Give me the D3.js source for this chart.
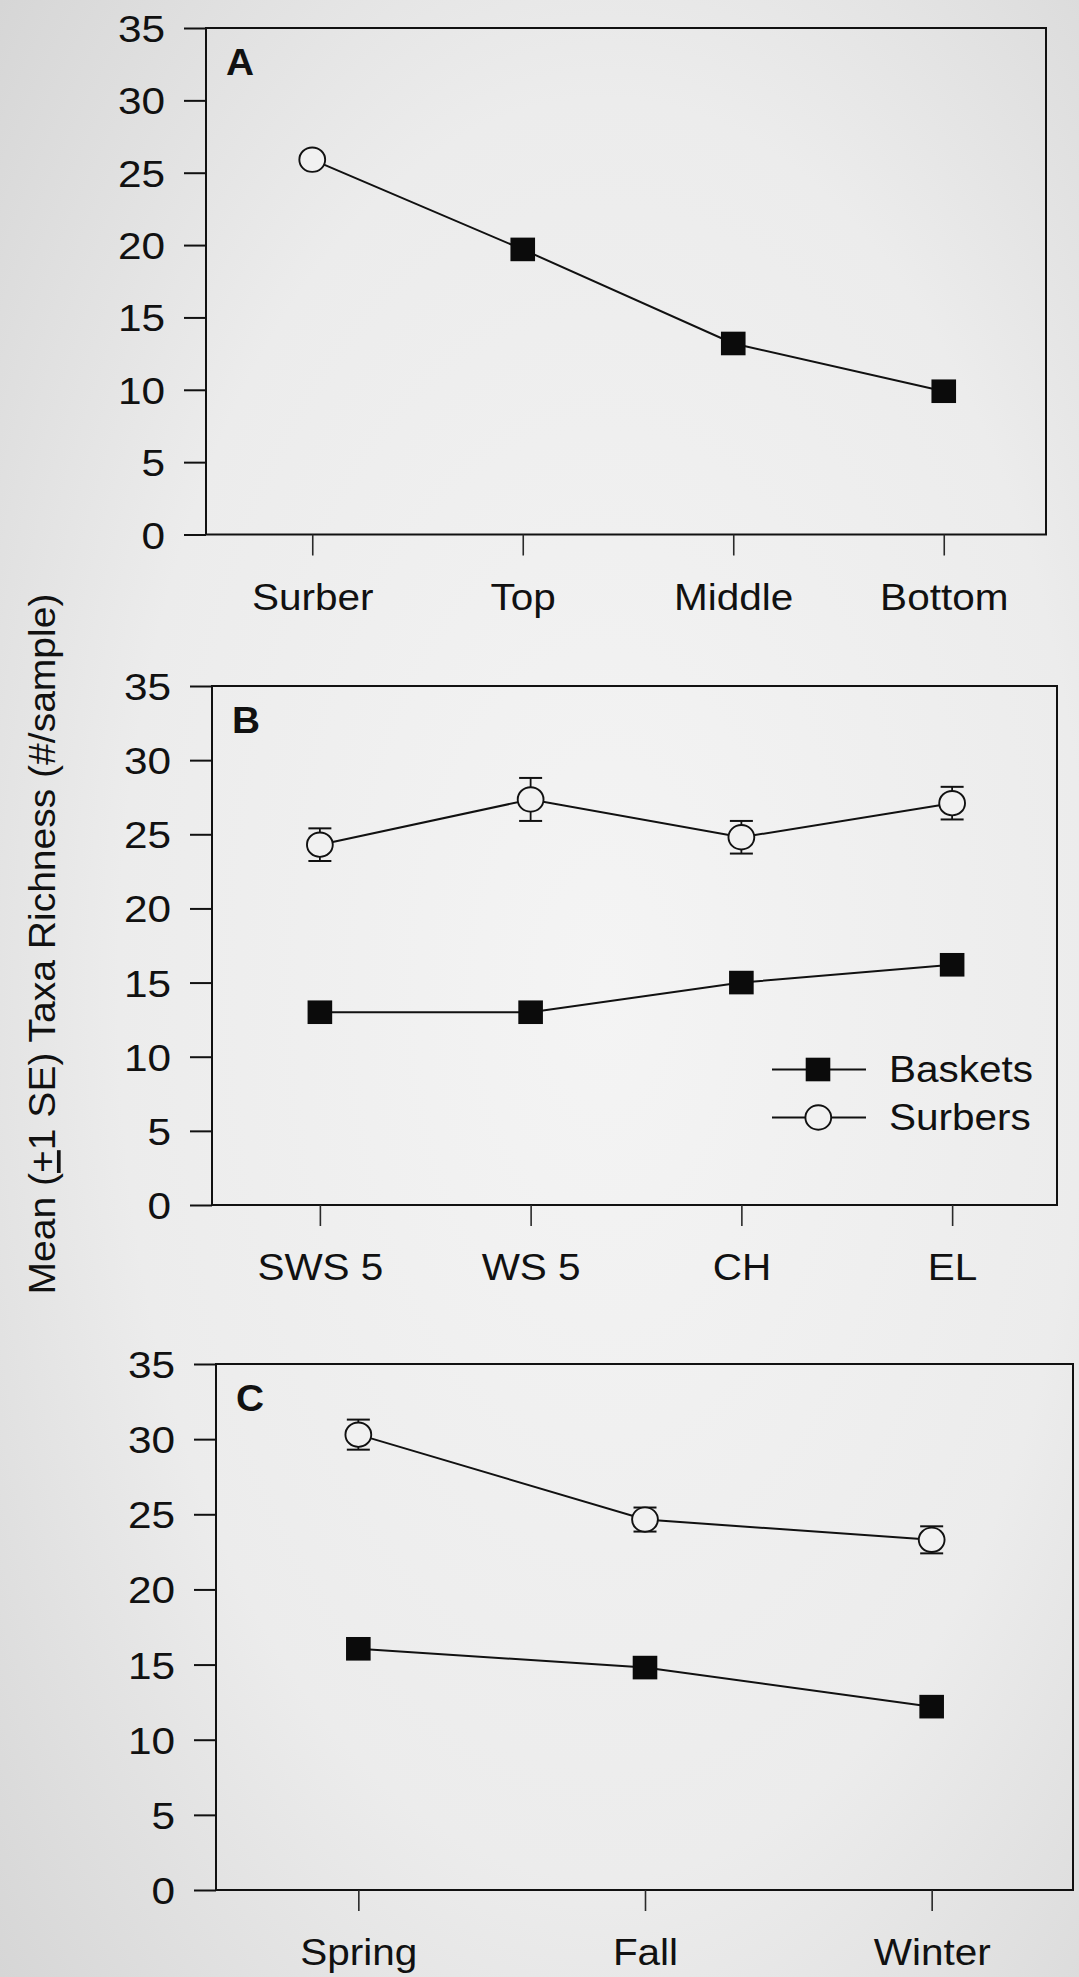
<!DOCTYPE html>
<html>
<head>
<meta charset="utf-8">
<script src="https://cdn.jsdelivr.net/npm/d3@7"></script>
<style>
  html, body { margin: 0; padding: 0; background: #ebebeb; }
  svg { display: block; }
</style>
</head>
<body>
<svg id="chart" width="1079" height="1977"></svg>
<script>
// ---- Data -------------------------------------------------------------
// Panel A: Surber sample vs. basket positions (single series)
const panelACategories = ["Surber", "Top", "Middle", "Bottom"];
const panelASampler    = ["Surber", "Basket", "Basket", "Basket"];
const panelAValues     = [25.9, 19.7, 13.2, 9.9];

// Panel B: sites
const panelBCategories = ["SWS 5", "WS 5", "CH", "EL"];
const panelBBaskets    = [13.0, 13.0, 15.0, 16.2];
const panelBSurbers    = [24.3, 27.35, 24.8, 27.1];
const panelBSurbersSE  = [1.1, 1.45, 1.1, 1.1];

// Panel C: seasons
const panelCCategories = ["Spring", "Fall", "Winter"];
const panelCBaskets    = [16.05, 14.8, 12.2];
const panelCSurbers    = [30.3, 24.65, 23.3];
const panelCSurbersSE  = [1.0, 0.8, 0.9];

const yTicks      = [0, 5, 10, 15, 20, 25, 30, 35];
const yDomain     = [0, 35];
const seriesNames = ["Baskets", "Surbers"];

// ---- Styling ----------------------------------------------------------
const FONT  = "'Liberation Sans', Arial, Helvetica, sans-serif";
const INK   = "#111";
const PAPER = "#f1f1f1";
const LABEL_SIZE = 37.5;
const DIGIT_SX = 1.13;   // horizontal widening of tick digits
const TEXT_SX  = 1.08;   // horizontal widening of words

const svg = d3.select("#chart");

// soft paper background with darker edges
const defs = svg.append("defs");
const bg = defs.append("radialGradient").attr("id", "paper")
  .attr("cx", "56%").attr("cy", "50%").attr("r", "75%");
bg.append("stop").attr("offset", "0%").attr("stop-color", "#f4f4f4");
bg.append("stop").attr("offset", "60%").attr("stop-color", "#ececec");
bg.append("stop").attr("offset", "100%").attr("stop-color", "#d6d6d6");
svg.append("rect").attr("width", 1079).attr("height", 1977).attr("fill", "url(#paper)");

// ---- Panel layout -----------------------------------------------------
const layout = {
  A: { top: 28,   bottom: 534.5, left: 206, right: 1046, xRange: [207, 1049] },
  B: { top: 686,  bottom: 1205,  left: 212, right: 1057, xRange: [214.5, 1057.5] },
  C: { top: 1364, bottom: 1890,  left: 216, right: 1073, xRange: [215, 1075] }
};

function drawSquare(g, cx, cy) {
  g.append("rect")
    .attr("x", cx - 12.3).attr("y", cy - 11.8)
    .attr("width", 24.6).attr("height", 23.6)
    .attr("fill", "#0b0b0b");
}
function drawCircle(g, cx, cy) {
  g.append("ellipse")
    .attr("cx", cx).attr("cy", cy)
    .attr("rx", 12.9).attr("ry", 12.2)
    .attr("fill", PAPER).attr("stroke", INK).attr("stroke-width", 1.9);
}

function drawPanel(letter, categories) {
  const L = layout[letter];
  const x = d3.scalePoint().domain(categories).range(L.xRange).padding(0.5);
  const y = d3.scaleLinear().domain(yDomain).range([L.bottom, L.top]);
  const g = svg.append("g").attr("class", "panel-" + letter);

  // frame
  g.append("rect")
    .attr("x", L.left).attr("y", L.top)
    .attr("width", L.right - L.left).attr("height", L.bottom - L.top)
    .attr("fill", "none").attr("stroke", INK).attr("stroke-width", 2);

  // y axis
  const yAxis = d3.axisLeft(y).tickValues(yTicks).tickSize(22).tickFormat(d3.format("d"));
  const ya = g.append("g").attr("transform", `translate(${L.left},0)`).call(yAxis);
  ya.select(".domain").remove();
  ya.selectAll(".tick line").attr("stroke", INK).attr("stroke-width", 2);
  ya.selectAll(".tick text")
    .attr("fill", INK)
    .attr("font-family", FONT).attr("font-size", LABEL_SIZE)
    .attr("text-anchor", "end")
    .attr("x", -41 / DIGIT_SX).attr("dy", "0.36em")
    .attr("transform", `scale(${DIGIT_SX},1)`);

  // x axis
  const xAxis = d3.axisBottom(x).tickSize(21).tickPadding(27.5);
  const xa = g.append("g").attr("transform", `translate(0,${L.bottom})`).call(xAxis);
  xa.select(".domain").remove();
  xa.selectAll(".tick line").attr("stroke", "#2a2a2a").attr("stroke-width", 1.6);
  xa.selectAll(".tick text")
    .attr("fill", INK)
    .attr("font-family", FONT).attr("font-size", LABEL_SIZE)
    .attr("transform", `scale(${TEXT_SX},1)`);

  // panel letter
  g.append("text")
    .attr("x", (L.left + 20) / 1.05).attr("y", L.top + 47)
    .attr("transform", "scale(1.05,1)")
    .attr("font-family", FONT).attr("font-weight", "bold")
    .attr("font-size", 37).attr("fill", INK)
    .text(letter);

  return { g, x, y };
}

const line = (x, y) => d3.line().x(d => x(d.cat)).y(d => y(d.v));

function drawSeries(p, cats, values, kinds, se) {
  const pts = cats.map((c, i) => ({ cat: c, v: values[i], kind: kinds[i], se: se ? se[i] : 0 }));
  p.g.append("path").datum(pts)
    .attr("d", line(p.x, p.y))
    .attr("fill", "none").attr("stroke", INK).attr("stroke-width", 2);
  // error bars (+/- 1 SE)
  pts.filter(d => d.se > 0).forEach(d => {
    const cx = p.x(d.cat), y1 = p.y(d.v + d.se), y2 = p.y(d.v - d.se);
    p.g.append("line").attr("x1", cx).attr("x2", cx).attr("y1", y1).attr("y2", y2)
      .attr("stroke", INK).attr("stroke-width", 1.8);
    [y1, y2].forEach(yy => p.g.append("line")
      .attr("x1", cx - 11.5).attr("x2", cx + 11.5).attr("y1", yy).attr("y2", yy)
      .attr("stroke", INK).attr("stroke-width", 2));
  });
  pts.forEach(d => {
    if (d.kind === "Surber") drawCircle(p.g, p.x(d.cat), p.y(d.v));
    else drawSquare(p.g, p.x(d.cat), p.y(d.v));
  });
}

// Panel A
const pA = drawPanel("A", panelACategories);
drawSeries(pA, panelACategories, panelAValues, panelASampler, null);

// Panel B
const pB = drawPanel("B", panelBCategories);
drawSeries(pB, panelBCategories, panelBBaskets, panelBCategories.map(() => "Basket"), null);
drawSeries(pB, panelBCategories, panelBSurbers, panelBCategories.map(() => "Surber"), panelBSurbersSE);

// legend inside panel B
const legend = pB.g.append("g").attr("class", "legend");
seriesNames.forEach((name, i) => {
  const ly = 1069.5 + i * 48;
  legend.append("line").attr("x1", 772).attr("x2", 866).attr("y1", ly).attr("y2", ly)
    .attr("stroke", INK).attr("stroke-width", 2);
  if (name === "Baskets") drawSquare(legend, 818, ly);
  else drawCircle(legend, 818.3, ly);
  legend.append("text")
    .attr("x", 889 / TEXT_SX).attr("y", ly + 12.2)
    .attr("transform", `scale(${TEXT_SX},1)`)
    .attr("font-family", FONT).attr("font-size", LABEL_SIZE).attr("fill", INK)
    .text(name);
});

// Panel C
const pC = drawPanel("C", panelCCategories);
drawSeries(pC, panelCCategories, panelCBaskets, panelCCategories.map(() => "Basket"), null);
drawSeries(pC, panelCCategories, panelCSurbers, panelCCategories.map(() => "Surber"), panelCSurbersSE);

// shared y-axis title
const title = svg.append("text")
  .attr("transform", "translate(55,944) rotate(-90) scale(1.055,1)")
  .attr("text-anchor", "middle")
  .attr("font-family", FONT).attr("font-size", 37).attr("fill", INK);
title.append("tspan").text("Mean (");
title.append("tspan").attr("text-decoration", "underline").text("+");
title.append("tspan").text("1 SE) Taxa Richness (#/sample)");
</script>
</body>
</html>
